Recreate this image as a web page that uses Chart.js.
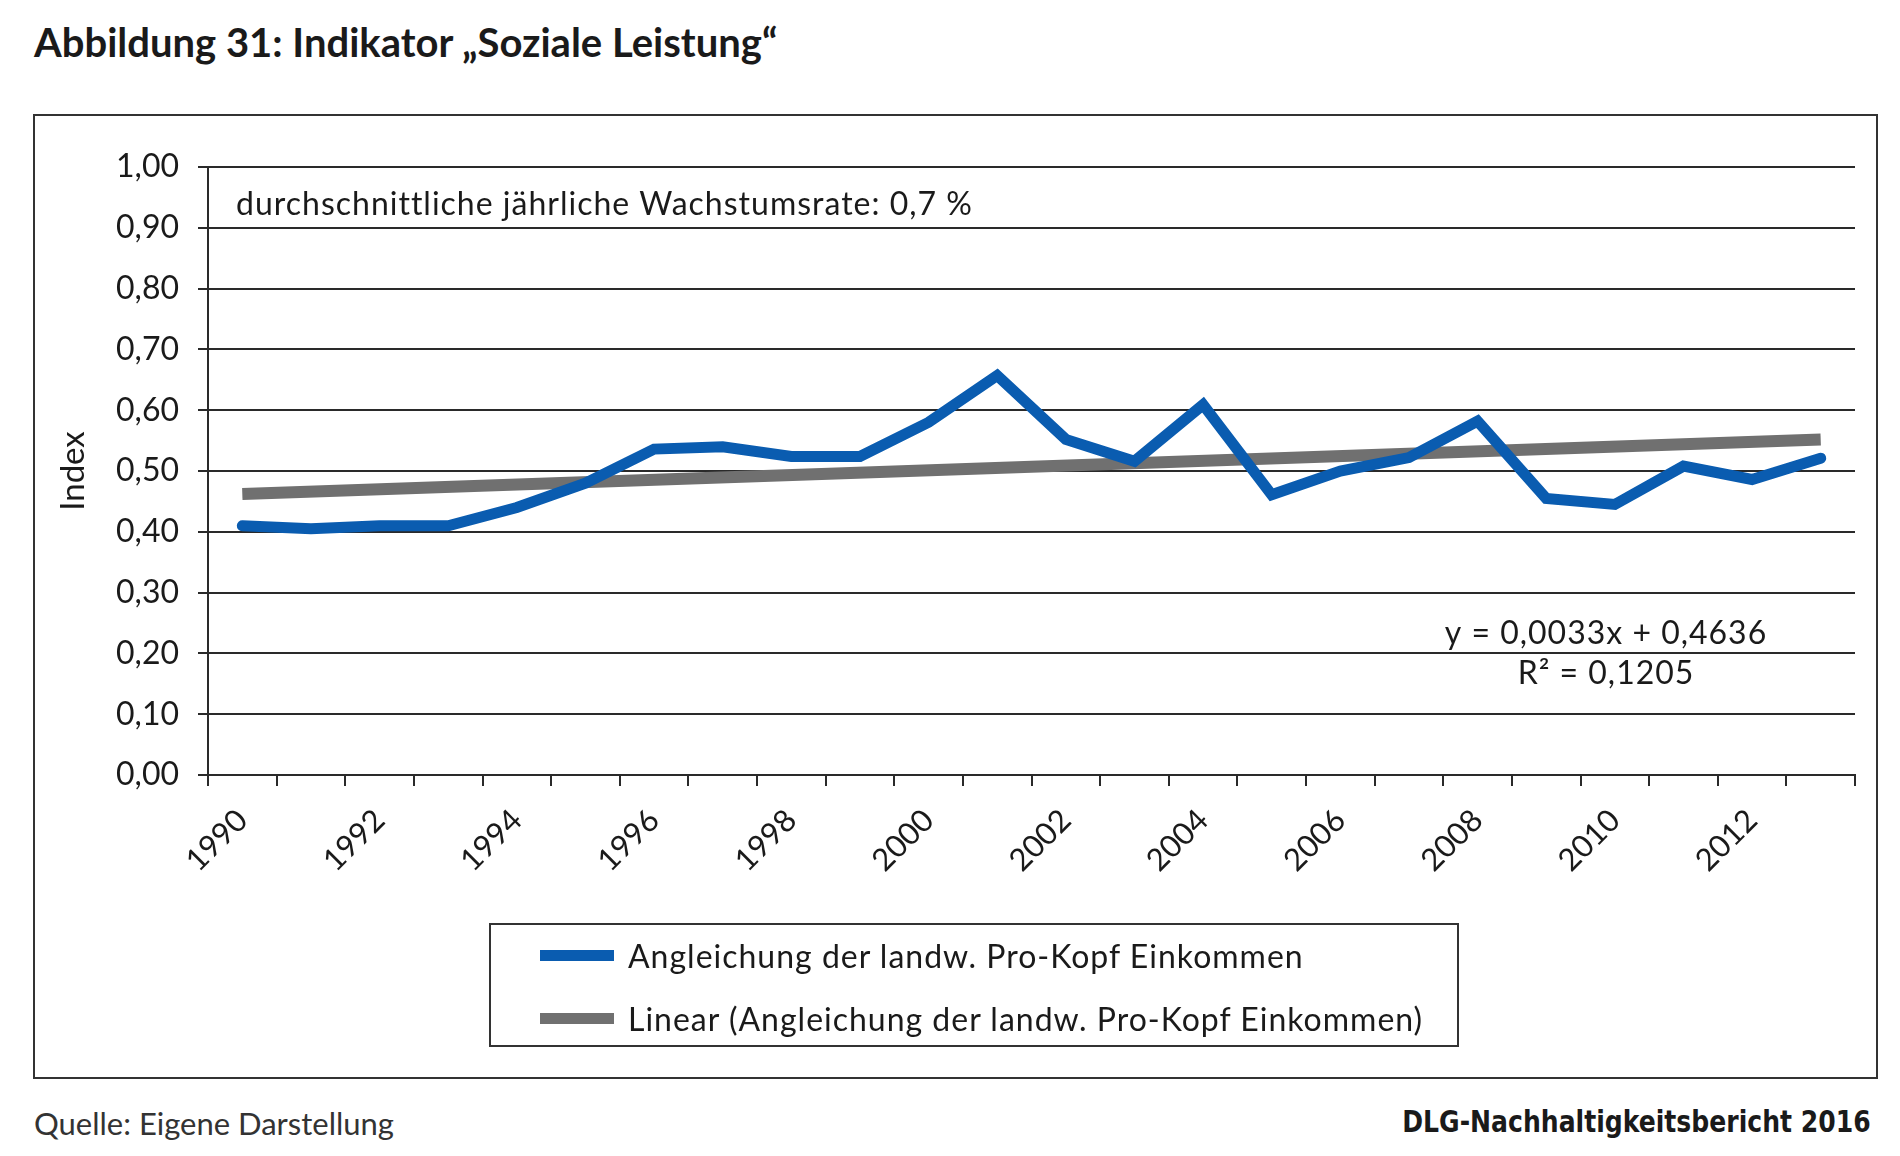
<!DOCTYPE html>
<html>
<head>
<meta charset="utf-8">
<script src="https://cdn.jsdelivr.net/npm/chart.js@4.4.1/dist/chart.umd.min.js"></script>
<style>
  body { margin: 0; background: #fff; width: 1900px; height: 1156px; position: relative; font-family: Lato, sans-serif; color: #1a1a1a; overflow: hidden; }
  #title { position: absolute; left: 34px; top: 18px; font-size: 40px; font-weight: 700; white-space: nowrap; }
  #box { position: absolute; left: 33px; top: 114px; width: 1841px; height: 961px; border: 2px solid #333; }
  #box canvas { position: absolute; left: 0; top: 0; }
  #legend { position: absolute; left: 454px; top: 807px; width: 966px; height: 120px; border: 2px solid #333; }
  .item { position: absolute; left: 49px; height: 40px; display: flex; align-items: center; font-size: 32px; letter-spacing: 1px; white-space: nowrap; }
  .sw { width: 74px; height: 11px; margin-right: 14px; }
  #src { position: absolute; left: 34px; top: 1104px; font-size: 31px; color: #333; }
  #pub { position: absolute; right: 29px; top: 1104px; font-size: 30px; font-weight: 700; font-family: "DejaVu Sans Condensed", sans-serif; transform: scaleX(0.93); transform-origin: right center; white-space: nowrap; }
</style>
</head>
<body>
<div id="title">Abbildung 31: Indikator „Soziale Leistung“</div>
<div id="box">
  <canvas id="lChart" width="1841" height="961"></canvas>
  <div id="legend"></div>
</div>
<div id="src">Quelle: Eigene Darstellung</div>
<div id="pub">DLG-Nachhaltigkeitsbericht 2016</div>
<script>
const years = ['1990','1991','1992','1993','1994','1995','1996','1997','1998','1999','2000','2001',
  '2002','2003','2004','2005','2006','2007','2008','2009','2010','2011','2012','2013'];
const incomeIndex = [0.41, 0.405, 0.41, 0.41, 0.44, 0.48, 0.536, 0.54, 0.524, 0.524, 0.58, 0.657,
  0.552, 0.516, 0.609, 0.461, 0.50, 0.522, 0.582, 0.455, 0.445, 0.508, 0.486, 0.521];
// trend line: only the two ends
const trendLine = [0.462, null, null, null, null, null, null, null, null, null, null, null,
  null, null, null, null, null, null, null, null, null, null, null, 0.552];
const yTicks = [0, 0.1, 0.2, 0.3, 0.4, 0.5, 0.6, 0.7, 0.8, 0.9, 1.0];
const seriesNames = ['Angleichung der landw. Pro-Kopf Einkommen', 'Linear (Angleichung der landw. Pro-Kopf Einkommen)'];
const growthNote = 'durchschnittliche jährliche Wachstumsrate: 0,7 %';
const equationLines = ['y = 0,0033x + 0,4636', 'R² = 0,1205'];

const blue = '#0a5cb0';
const grey = '#707070';
const ink = '#1a1a1a';

const notes = {
  id: 'notes',
  afterDraw(chart) {
    const { ctx, chartArea, scales: { y } } = chart;
    ctx.save();
    ctx.font = '32px Lato';
    ctx.letterSpacing = '1px';
    ctx.fillStyle = ink;
    ctx.textBaseline = 'middle';
    ctx.textAlign = 'left';
    ctx.fillText(growthNote, chartArea.left + 28, y.getPixelForValue(0.938));
    ctx.textAlign = 'center';
    ctx.fillText(equationLines[0], chartArea.right - 249, y.getPixelForValue(0.233));
    ctx.fillText(equationLines[1], chartArea.right - 249, y.getPixelForValue(0.166));
    ctx.restore();
  }
};

const data = {
  labels: years,
  datasets: [
    { label: seriesNames[0], data: incomeIndex, borderColor: blue, backgroundColor: blue,
      borderWidth: 11, pointRadius: 0, tension: 0, borderCapStyle: 'round', order: 0 },
    { label: seriesNames[1], data: trendLine, borderColor: grey, backgroundColor: grey,
      borderWidth: 12, pointRadius: 0, tension: 0, spanGaps: true, order: 1 }
  ]
};

const config = {
  type: 'line',
  data: data,
  options: {
    responsive: false,
    animation: false,
    layout: { padding: { top: 51, right: 21, bottom: 172, left: 0 } },
    plugins: { legend: { display: false }, tooltip: { enabled: false } },
    scales: {
      x: {
        offset: true,
        grid: { offset: true, drawOnChartArea: false, drawTicks: true, tickLength: 11, color: '#2a2a2a', lineWidth: 2 },
        border: { color: '#2a2a2a', width: 2 },
        ticks: {
          autoSkip: false, maxRotation: 45, minRotation: 45, padding: 16,
          color: ink, font: { family: 'Lato', size: 31 },
          callback: function (v, i) { return i % 2 === 0 ? years[i] : ''; }
        },
        afterFit: function (s) { s.height = 130; }
      },
      y: {
        min: 0, max: 1,
        afterBuildTicks: function (s) { s.ticks = yTicks.map(v => ({ value: v })); },
        grid: { color: '#2a2a2a', lineWidth: 2, tickLength: 10 },
        border: { color: '#2a2a2a', width: 2 },
        ticks: {
          padding: 19, color: ink, font: { family: 'Lato', size: 32 },
          callback: function (v) { return v.toFixed(2).replace('.', ','); }
        },
        title: { display: true, text: 'Index', color: ink, font: { family: 'Lato', size: 33 }, padding: { top: 19, bottom: 0 } },
        afterFit: function (s) { s.width = 173; }
      }
    }
  },
  plugins: [notes]
};

const myChart = new Chart(document.getElementById('lChart'), config);

// legend built from the datasets
const legend = document.getElementById('legend');
data.datasets.forEach(function (ds, i) {
  const row = document.createElement('div');
  row.className = 'item';
  row.style.top = (10 + i * 63) + 'px';
  row.innerHTML = '<div class="sw" style="background:' + ds.borderColor + '"></div>' + ds.label;
  legend.appendChild(row);
});
</script>
</body>
</html>
